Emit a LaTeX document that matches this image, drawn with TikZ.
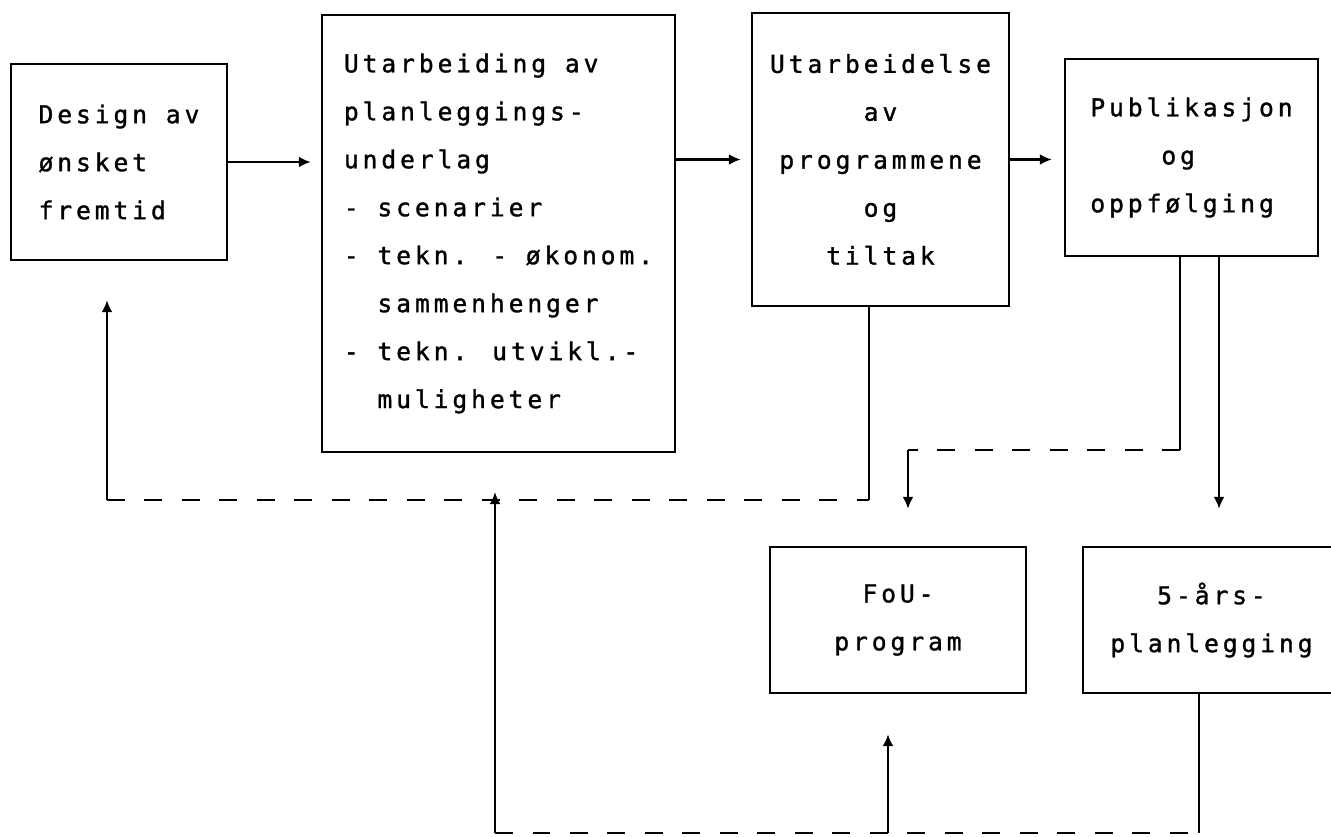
\documentclass[tikz,border=0pt]{standalone}
\usepackage{fontspec}
\newfontfamily\typew[LetterSpace=16, FakeBold=1.3]{DejaVu Sans Mono}
\usetikzlibrary{arrows.meta, calc}

\begin{document}
\begin{tikzpicture}[x=0.02cm, y=-0.02cm, line width=1.4pt,
    box/.style={draw, inner sep=0pt, font={\typew\fontsize{14pt}{27.3pt}\selectfont}},
    arr/.style={-{Latex[length=2.4mm,width=2.2mm]}},
    dashline/.style={dash pattern=on 0.36cm off 0.39cm}]
    \useasboundingbox (0,0) rectangle (1331,836);
    \clip (0,0) rectangle (1331,836);

    % Boxes
    \node[box, minimum width=4.32cm, minimum height=3.92cm, align=left] (d) at (119,162)
        {Design av\\ønsket\\fremtid};
    \node[box, minimum width=7.06cm, minimum height=8.74cm, align=left] (u) at (498.5,233.5)
        {Utarbeiding av\\planleggings-\\underlag\\- scenarier\\- tekn. - økonom.\\\phantom{- }sammenhenger\\- tekn. utvikl.-\\\phantom{- }muligheter};
    \node[box, minimum width=5.14cm, minimum height=5.86cm, align=center] (p) at (880.5,159.5)
        {Utarbeidelse\\av\\programmene\\og\\tiltak};
    \node[box, minimum width=5.06cm, minimum height=3.94cm, align=left] (pub) at (1191.5,157.5)
        {Publikasjon\\\phantom{xxxx}og\\oppfølging};
    \node[box, minimum width=5.12cm, minimum height=2.92cm, align=center] (fou) at (898,620)
        {FoU-\\program};
    \node[box, minimum width=5.14cm, minimum height=2.92cm, align=center] (fem) at (1211.5,620)
        {5-års-\\planlegging};

    % Main flow
    \draw[arr, shorten >=0.2cm] (d.east) -- (d.east -| u.west);
    \draw[arr, shorten >=0.2cm] (u.east |- p.west) -- (p.west);
    \draw[arr, shorten >=0.24cm] (p.east) -- (p.east -| pub.west);

    % Feedback to design
    \coordinate (c1) at (869,500);
    \coordinate (c2) at (107,500);
    \draw (p.south -| c1) -- (c1);
    \draw[dashline] (c2) -- (c1);
    \draw[arr, shorten >=0.78cm] (c2) -- (c2 |- d.south);

    % From publication
    \coordinate (q1) at (1180,450);
    \coordinate (q2) at (908,450);
    \coordinate (q3) at (1219,450);
    \draw (pub.south -| q1) -- (q1);
    \draw[dashline] (q1) -- (q2);
    \draw[arr, shorten >=0.74cm] (q2) -- (q2 |- fou.north);
    \draw[arr, shorten >=0.74cm] (pub.south -| q3) -- (q3 |- fem.north);

    % Bottom return
    \coordinate (b1) at (495,833);
    \coordinate (b2) at (1199,833);
    \coordinate (b3) at (888,833);
    \draw[dashline] (b1) -- (b2);
    \draw (fem.south -| b2) -- (b2);
    \draw[arr] (b1) -- ([yshift=0.16cm]b1 |- c1);
    \draw[arr, shorten >=0.8cm] (b3) -- (b3 |- fou.south);
\end{tikzpicture}
\end{document}
